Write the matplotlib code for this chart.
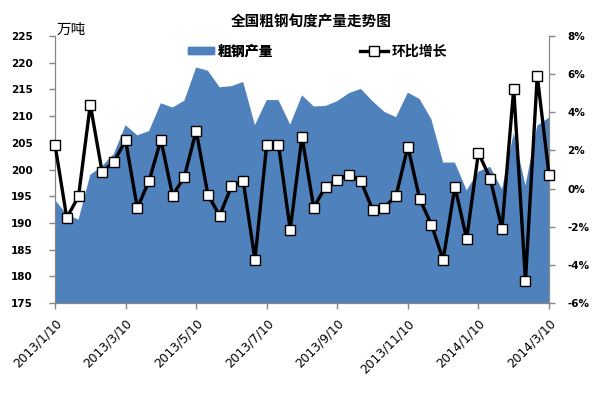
import numpy as np
import matplotlib
matplotlib.use('Agg')
import matplotlib.pyplot as plt
from matplotlib.patches import Patch
from matplotlib.lines import Line2D

plt.rcParams['font.family'] = ['DejaVu Sans', 'Noto Sans CJK SC']

# ten-day periods, 2013/1/10 .. 2014/3/10
tick_labels = ['2013/1/10', '2013/3/10', '2013/5/10', '2013/7/10',
               '2013/9/10', '2013/11/10', '2014/1/10', '2014/3/10']

# 粗钢产量 (万吨)
output = [194.3, 191.6, 190.6, 199.0, 200.6, 202.9, 208.3, 206.4, 207.2, 212.4,
          211.6, 212.9, 219.1, 218.5, 215.4, 215.6, 216.4, 208.3, 213.0, 213.0,
          208.4, 213.9, 211.8, 211.9, 212.8, 214.3, 215.1, 212.8, 210.8, 209.8,
          214.4, 213.2, 209.4, 201.3, 201.3, 196.1, 199.6, 200.5, 196.3, 206.8,
          197.0, 208.2, 209.7]

# 环比增长 (%)
growth = [2.30, -1.53, -0.41, 4.40, 0.89, 1.39, 2.53, -1.02, 0.41, 2.56,
          -0.37, 0.62, 3.03, -0.32, -1.42, 0.12, 0.41, -3.73, 2.30, 2.30,
          -2.16, 2.72, -1.00, 0.10, 0.46, 0.73, 0.41, -1.11, -1.00, -0.37,
          2.20, -0.53, -1.89, -3.73, 0.10, -2.63, 1.88, 0.52, -2.10, 5.24,
          -4.83, 5.92, 0.73]

x = np.arange(len(output))
blue = '#4F81BD'
grey = '#868686'
cjk = ['Noto Sans CJK SC', 'DejaVu Sans']

fig = plt.figure(figsize=(6.08, 3.95), dpi=100)
ax = fig.add_axes([55 / 608, 1 - 303 / 395, 494 / 608, 267 / 395])

ax.fill_between(x, output, 0, color=blue, linewidth=0)
ax.set_xlim(0, len(output) - 1)
ax.set_ylim(175, 225)
ax.set_yticks(np.arange(175, 226, 5))
ax.set_xticks(np.arange(0, len(output), 6))
ax.set_xticklabels(tick_labels, rotation=45, ha='right', rotation_mode='anchor', fontsize=8.8)

ax2 = ax.twinx()
ax2.plot(x, growth, color='black', lw=2.4, marker='s', ms=7.5, mfc='white',
         mec='black', mew=1.0, clip_on=False, zorder=5)
ax2.set_ylim(-6, 8)
ax2.set_yticks(np.arange(-6, 9, 2))
ax2.set_yticklabels(['%d%%' % v for v in range(-6, 9, 2)])

for a in (ax, ax2):
    a.spines['top'].set_visible(False)
    for s in ('left', 'right', 'bottom'):
        a.spines[s].set_color(grey)
    a.tick_params(axis='both', color=grey, length=4, width=1)
ax.tick_params(axis='y', labelsize=7.5, pad=12)
ax.tick_params(axis='x', pad=6)
ax2.tick_params(axis='y', labelsize=7.5, pad=9)
for lab in ax.get_yticklabels() + ax2.get_yticklabels():
    lab.set_fontweight('bold')

fig.text(311 / 608, 1 - 22 / 395, '全国粗钢旬度产量走势图', ha='center', va='center',
         fontsize=10.5, fontweight='bold', family=cjk)
fig.text(57 / 608, 1 - 37 / 395, '万吨', ha='left', va='bottom', fontsize=10.5, family=cjk)

leg1 = fig.legend(handles=[Patch(color=blue, label='粗钢产量')], loc='center left',
                  bbox_to_anchor=(181 / 608, 1 - 51.5 / 395), frameon=False, borderpad=0,
                  handlelength=1.9, handleheight=0.45, handletextpad=0.25,
                  prop={'family': cjk, 'weight': 'bold', 'size': 10})
leg2 = fig.legend(handles=[Line2D([], [], color='black', lw=2.4, marker='s', ms=7.5,
                                  mfc='white', mec='black', mew=1.0, label='环比增长')],
                  loc='center left', bbox_to_anchor=(353 / 608, 1 - 51.5 / 395),
                  frameon=False, borderpad=0, handlelength=2.0, handletextpad=0.25,
                  prop={'family': cjk, 'weight': 'bold', 'size': 10})
fig.add_artist(leg1)

fig.savefig('out.png', dpi=100)
